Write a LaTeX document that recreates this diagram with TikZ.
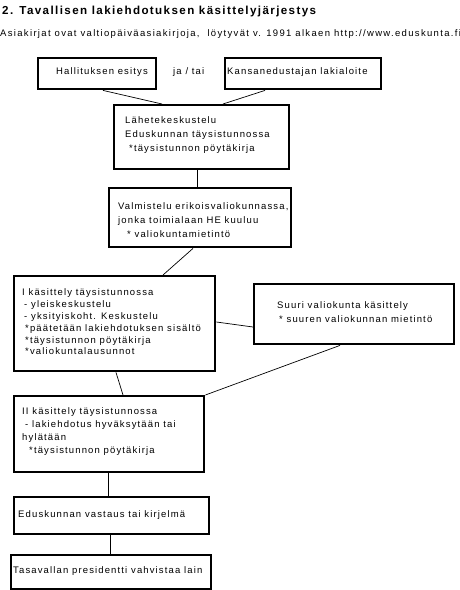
\documentclass[tikz,border=0pt]{standalone}
\usepackage{fontspec}
\setmainfont{Liberation Sans}[LetterSpace=12]
\begin{document}
\begin{tikzpicture}[x=1pt,y=-1pt,
  box/.style={draw, line width=2.4pt, inner sep=0pt, anchor=north west},
  txt/.style={anchor=west, inner sep=0pt, align=left, font=\fontsize{9.5}{#1}\selectfont},
  txt/.default=14,
  conn/.style={line width=0.7pt}]
\useasboundingbox (0,0) rectangle (460,590);
\fill[white] (0,0) rectangle (460,590);
% title
\node[anchor=base west, inner sep=0pt, font=\fontsize{11.6}{14}\bfseries] (title) at (2,14) {2. Tavallisen lakiehdotuksen käsittelyjärjestys};
\node[anchor=base west, inner sep=0pt, font=\fontsize{9.5}{11}\selectfont\addfontfeatures{LetterSpace=14}] (sub) at (0,36) {Asiakirjat ovat valtiopäiväasiakirjoja,\ \ löytyvät v. 1991 alkaen http://www.eduskunta.fi};
% boxes
\node[box, minimum width=118, minimum height=31] (b1) at (37,57) {};
\node[box, minimum width=156, minimum height=31] (b2) at (224,57) {};
\node[box, minimum width=175, minimum height=64] (b3) at (113,104) {};
\node[box, minimum width=182, minimum height=59] (b4) at (108,187) {};
\node[box, minimum width=201, minimum height=95] (b5) at (13,275) {};
\node[box, minimum width=200, minimum height=60] (b7) at (253,283) {};
\node[box, minimum width=190, minimum height=76] (b6) at (13,395) {};
\node[box, minimum width=195, minimum height=37] (b8) at (13,496) {};
\node[box, minimum width=200, minimum height=34] (b9) at (10,554) {};
% texts
\node[txt] (t1) at (56,72) {Hallituksen esitys};
\node[txt] (ja) at (173,72) {ja / tai};
\node[txt] (t2) at (227,72) {Kansanedustajan lakialoite};
\node[txt=14] (t3) at (125,135) {Lähetekeskustelu\\Eduskunnan täysistunnossa\\\hspace*{4pt}*täysistunnon pöytäkirja};
\node[txt=14] (t4) at (118,220) {Valmistelu erikoisvaliokunnassa,\\jonka toimialaan HE kuuluu\\\hspace*{9pt}* valiokuntamietintö};
\node[txt=11.8] (t5) at (22,322) {I käsittely täysistunnossa\\\hspace*{2pt}- yleiskeskustelu\\\hspace*{2pt}- yksityiskoht. Keskustelu\\\hspace*{3pt}*päätetään lakiehdotuksen sisältö\\\hspace*{3pt}*täysistunnon pöytäkirja\\\hspace*{3pt}*valiokuntalausunnot};
\node[txt=14] (t7) at (277,312) {Suuri valiokunta käsittely\\\hspace*{2pt}* suuren valiokunnan mietintö};
\node[txt=13] (t6) at (22,432) {II käsittely täysistunnossa\\\hspace*{3pt}- lakiehdotus hyväksytään tai\\hylätään\\\hspace*{7pt}*täysistunnon pöytäkirja};
\node[txt] (t8) at (18,515) {Eduskunnan vastaus tai kirjelmä};
\node[txt] (t9) at (13,571) {Tasavallan presidentti vahvistaa lain};
% connectors
\draw[conn] ([xshift=66pt]b1.south west) -- ([xshift=49pt]b3.north west);
\draw[conn] ([xshift=41pt]b2.south west) -- ([xshift=110pt]b3.north west);
\draw[conn] ([xshift=84pt]b3.south west) -- ([xshift=89pt]b4.north west);
\draw[conn] ([xshift=85pt]b4.south west) -- ([xshift=150pt]b5.north west);
\draw[conn] ([yshift=-47pt]b5.north east) -- ([yshift=-44pt]b7.north west);
\draw[conn] ([xshift=103pt]b5.south west) -- ([xshift=110pt]b6.north west);
\draw[conn] ([xshift=87pt]b7.south west) -- (b6.north east);
\draw[conn] ([xshift=95pt]b6.south west) -- ([xshift=95pt]b8.north west);
\draw[conn] ([xshift=97pt]b8.south west) -- ([xshift=100pt]b9.north west);
\end{tikzpicture}
\end{document}
